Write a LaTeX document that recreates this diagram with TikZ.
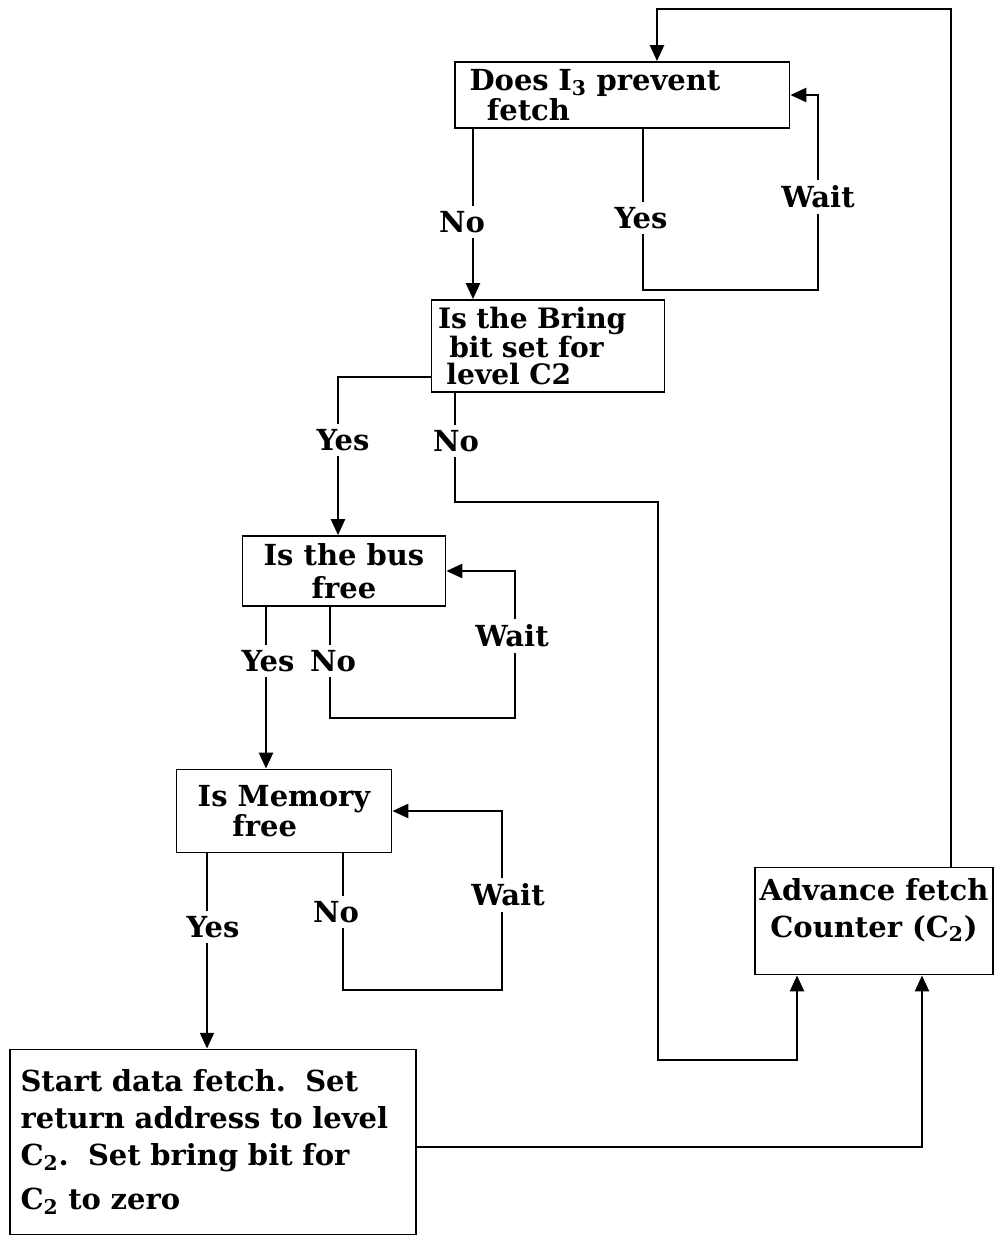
\documentclass[tikz,border=0pt]{standalone}
\usepackage{fontspec}
\setmainfont{DejaVu Serif}
\usetikzlibrary{arrows.meta,positioning}

\begin{document}
\begin{tikzpicture}[x=0.02cm,y=-0.02cm,
  box/.style={draw,line width=1.1pt,inner sep=3pt,font=\bfseries\fontsize{16.5}{19}\selectfont},
  flow/.style={line width=1.1pt},
  into/.style={flow,-{Triangle[length=9pt,width=8pt]}},
  lbl/.style={inner sep=3pt,font=\bfseries\fontsize{16.5}{19}\selectfont}]
\useasboundingbox (0,0) rectangle (995,1238);

% boxes
\node[box,minimum width=6.7cm,minimum height=1.32cm,text width=6.1cm,align=left,font=\bfseries\fontsize{16.5}{17}\selectfont] (prevent) at (622,95) {Does I\textsubscript{3} prevent\\\hspace*{0.6em}fetch};
\node[box,minimum width=4.66cm,minimum height=1.84cm,text width=4.4cm,align=left,font=\bfseries\fontsize{16}{15.5}\selectfont] (bring) at (548,346) {Is the Bring\\\hspace*{0.4em}bit set for\\\hspace*{0.3em}level C2};
\node[box,minimum width=4.06cm,minimum height=1.4cm,align=center] (bus) at (344,571) {Is the bus\\free};
\node[box,minimum width=4.3cm,minimum height=1.66cm,align=left,font=\bfseries\fontsize{16.5}{17}\selectfont] (memory) at (284,811) {Is Memory\\\hspace*{1.2em}free};
\node[box,minimum width=8.14cm,minimum height=3.7cm,text width=7.7cm,align=left,font=\bfseries\fontsize{16.5}{21}\selectfont] (start) at (213,1142) {Start data fetch.\ \ Set\\return address to level\\C\textsubscript{2}.\ \ Set bring bit for\\[4pt]C\textsubscript{2} to zero};
\node[box,minimum width=4.76cm,minimum height=2.14cm,inner xsep=1pt,align=center,font=\bfseries\fontsize{16.5}{21}\selectfont] (advance) at (874,921) {Advance fetch\\Counter (C\textsubscript{2})\\[-6pt]\mbox{}};

% labels on the lines
\node[lbl] (noA) at (462,222) {No};
\node[lbl] (yesA) at (641,218) {Yes};
\node[lbl] (waitA) at (818,197) {Wait};
\node[lbl] (yesB) at (343,440) {Yes};
\node[lbl] (noB) at (456,441) {No};
\node[lbl] (yesC) at (268,661) {Yes};
\node[lbl] (noC) at (333,661) {No};
\node[lbl] (waitC) at (512,636) {Wait};
\node[lbl] (yesD) at (213,927) {Yes};
\node[lbl] (noD) at (336,912) {No};
\node[lbl] (waitD) at (508,895) {Wait};

% corners of the lines
\coordinate (topL) at (657,9);
\coordinate (topR) at (951,9);
\coordinate (xNoA) at (473,0);
\coordinate (cYesA) at (643,290);
\coordinate (loopA) at (818,290);
\coordinate (turnB) at (338,377);
\coordinate (turnNoB) at (455,502);
\coordinate (downNoB) at (658,1060);
\coordinate (xAdvL) at (797,1060);
\coordinate (xYesC) at (266,0);
\coordinate (cNoC) at (330,718);
\coordinate (loopC) at (515,718);
\coordinate (xYesD) at (207,0);
\coordinate (cNoD) at (343,990);
\coordinate (loopD) at (502,990);
\coordinate (turnE) at (922,1147);

% back to the top
\draw[into] (advance.north -| topR) -- (topR) -- (topL) -- (prevent.north -| topL);

% does I3 prevent fetch
\draw[flow] (prevent.south -| xNoA) -- (noA.north -| xNoA);
\draw[into] (noA.south -| xNoA) -- (bring.north -| xNoA);
\draw[flow] (prevent.south -| cYesA) -- (yesA.north -| cYesA);
\draw[flow] (yesA.south -| cYesA) -- (cYesA) -- (loopA) -- (waitA.south -| loopA);
\draw[into] (waitA.north -| loopA) |- (prevent.east);

% bring bit
\draw[flow] (bring.west |- turnB) -- (turnB) -- (yesB.north -| turnB);
\draw[into] (yesB.south -| turnB) -- (bus.north -| turnB);
\draw[flow] (bring.south -| turnNoB) -- (noB.north -| turnNoB);
\draw[into] (noB.south -| turnNoB) -- (turnNoB) -| (downNoB) -| (advance.south -| xAdvL);

% bus free
\draw[flow] (bus.south -| xYesC) -- (yesC.north -| xYesC);
\draw[into] (yesC.south -| xYesC) -- (memory.north -| xYesC);
\draw[flow] (bus.south -| cNoC) -- (noC.north -| cNoC);
\draw[flow] (noC.south -| cNoC) -- (cNoC) -- (loopC) -- (waitC.south -| loopC);
\draw[into] (waitC.north -| loopC) |- (bus.east);

% memory free
\draw[flow] (memory.south -| xYesD) -- (yesD.north -| xYesD);
\draw[into] (yesD.south -| xYesD) -- (start.north -| xYesD);
\draw[flow] (memory.south -| cNoD) -- (noD.north -| cNoD);
\draw[flow] (noD.south -| cNoD) -- (cNoD) -- (loopD) -- (waitD.south -| loopD);
\draw[into] (waitD.north -| loopD) |- (memory.east);

% start fetch
\draw[into] (start.east |- turnE) -- (turnE) -- (advance.south -| turnE);
\end{tikzpicture}
\end{document}
